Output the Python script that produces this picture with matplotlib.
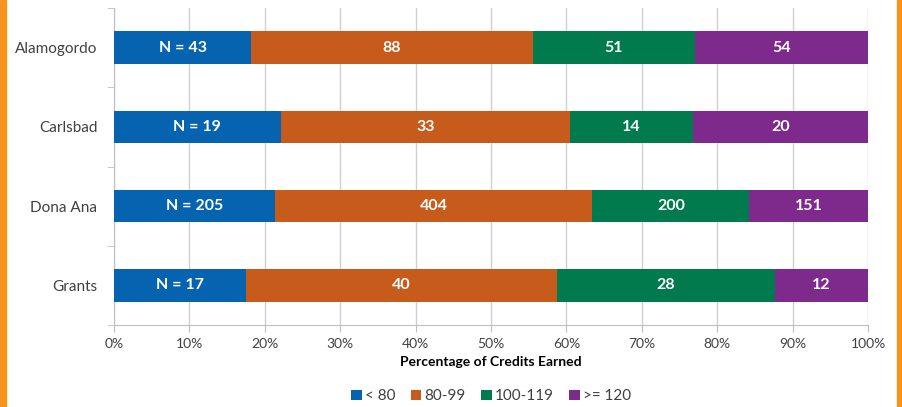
import matplotlib.pyplot as plt
import matplotlib.patches as mpatches
import numpy as np

### DATA ###
campuses = ['Alamogordo', 'Carlsbad', 'Dona Ana', 'Grants']
groups = ['< 80', '80-99', '100-119', '>= 120']
lt80 = [43, 19, 205, 17]
c80_99 = [88, 33, 404, 40]
c100_119 = [51, 14, 200, 28]
ge120 = [54, 20, 151, 12]
xticks = [0, 10, 20, 30, 40, 50, 60, 70, 80, 90, 100]

colors = ['#0563B0', '#C65B1B', '#017A4E', '#7E2A8C']

plt.rcParams['font.family'] = ['Lato', 'DejaVu Sans']

counts = np.array([lt80, c80_99, c100_119, ge120], dtype=float)
totals = counts.sum(axis=0)
pcts = counts / totals * 100

fig = plt.figure(figsize=(9.02, 4.07), dpi=100)
ax = fig.add_axes([114/902, 82/407, 754/902, 317/407])

y = np.arange(len(campuses))
left = np.zeros(len(campuses))
for i in range(len(groups)):
    ax.barh(y, pcts[i], left=left, height=0.41, color=colors[i], label=groups[i], zorder=3)
    for j in range(len(campuses)):
        txt = str(int(counts[i][j]))
        if i == 0:
            txt = 'N = ' + txt
        ax.text(left[j] + pcts[i][j] / 2, y[j], txt, ha='center', va='center',
                color='white', fontsize=11.5, fontweight='bold', zorder=4)
    left = left + pcts[i]

ax.set_xlim(0, 100)
ax.set_ylim(3.5, -0.5)
ax.set_xticks(xticks)
ax.set_xticklabels([str(t) + '%' for t in xticks], fontsize=10, color='#404040')
ax.set_yticks(y)
ax.set_yticklabels(campuses, fontsize=11, color='#404040')
ax.set_yticks([-0.5, 0.5, 1.5, 2.5, 3.5], minor=True)
ax.tick_params(axis='y', which='major', length=0, pad=12)
ax.tick_params(axis='y', which='minor', length=5, color='#BFBFBF')
ax.tick_params(axis='x', length=5, color='#BFBFBF', pad=4)
ax.grid(axis='x', color='#D0D0D0', linewidth=1, zorder=0)

for s in ['top', 'right']:
    ax.spines[s].set_visible(False)
ax.spines['left'].set_color('#BFBFBF')
ax.spines['bottom'].set_color('#BFBFBF')

ax.set_xlabel('Percentage of Credits Earned', fontsize=10, fontweight='bold', color='black', labelpad=5)

leg = ax.legend(loc='center', bbox_to_anchor=(0.5, -0.225), ncol=4, frameon=False,
                fontsize=11, handlelength=0.7, handleheight=0.7, handletextpad=0.2, columnspacing=1.0)
for t in leg.get_texts():
    t.set_color('#404040')

### orange page border strips ###
fig.patches.append(mpatches.Rectangle((0, 0), 6/902, 1, transform=fig.transFigure, color='#F7941D'))
fig.patches.append(mpatches.Rectangle((897/902, 0), 5/902, 1, transform=fig.transFigure, color='#F7941D'))

plt.savefig('out.png', dpi=100)
